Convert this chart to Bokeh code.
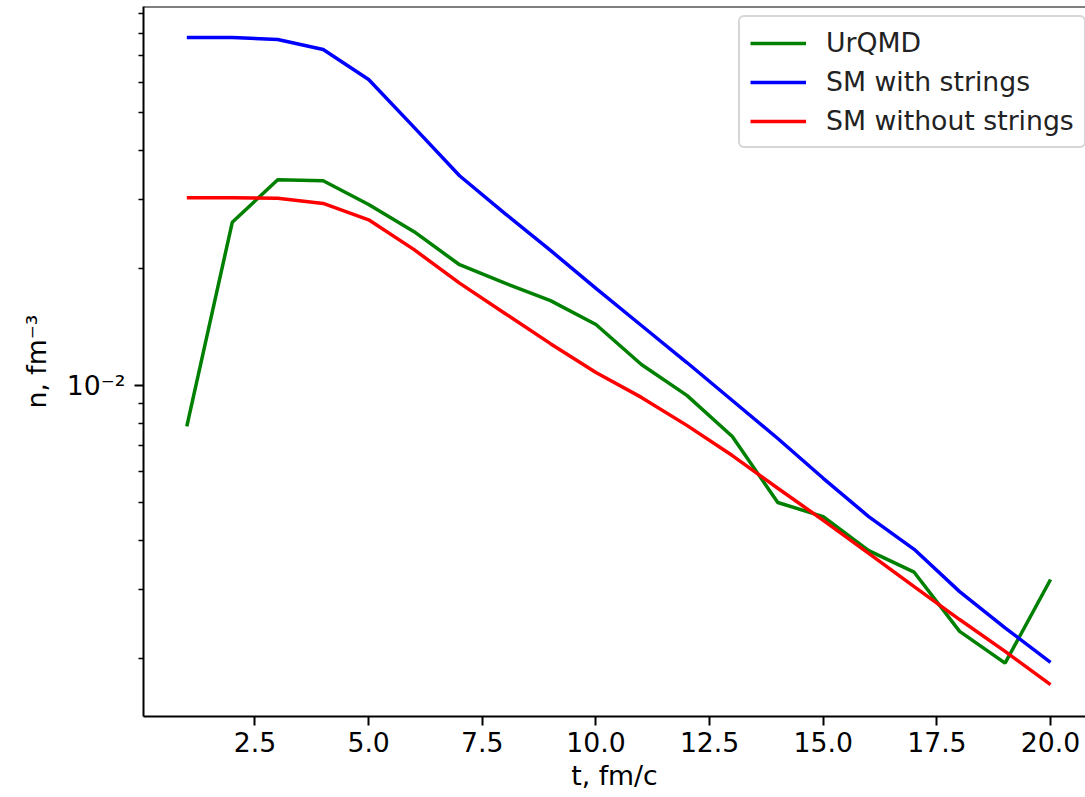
from bokeh.plotting import figure
from bokeh.models import (Range1d, FixedTicker, NumeralTickFormatter, Legend,
                          LegendItem, Span)
from bokeh.embed import file_html
from bokeh.resources import INLINE

# ---- data ----
t = list(range(1, 21))
urqmd = [0.00785, 0.0262, 0.0337, 0.0335, 0.0291, 0.0248, 0.0204, 0.0183,
         0.0165, 0.01433, 0.01132, 0.00943, 0.00740, 0.00501, 0.00461,
         0.00377, 0.00332, 0.00234, 0.00194, 0.00318]
sm_strings = [0.0780, 0.0780, 0.0771, 0.0727, 0.0609, 0.0459, 0.0345, 0.0276,
              0.0222, 0.01774, 0.01425, 0.01145, 0.00915, 0.00731, 0.00578,
              0.00461, 0.00380, 0.00296, 0.00239, 0.00195]
sm_no_strings = [0.0303, 0.0303, 0.0302, 0.0293, 0.0266, 0.0223, 0.0183,
                 0.0153, 0.0128, 0.01080, 0.00932, 0.00790, 0.00661, 0.00545,
                 0.00451, 0.00371, 0.00305, 0.00251, 0.00208, 0.00171]
series_names = ["UrQMD", "SM with strings", "SM without strings"]
series_colors = ["#008000", "#0000ff", "#ff0000"]

x_ticks = [2.5, 5.0, 7.5, 10.0, 12.5, 15.0, 17.5, 20.0]
y_major = [0.01]
y_minor = [0.002, 0.003, 0.004, 0.005, 0.006, 0.007, 0.008, 0.009,
           0.02, 0.03, 0.04, 0.05, 0.06, 0.07, 0.08, 0.09]
y_major_labels = {0.01: "10⁻²"}
x_title = "t, fm/c"
y_title = "n, fm⁻³"

X_START, X_END = 0.0475, 20.769
Y_START, Y_END = 0.001416, 0.09372

FONT = "DejaVu Sans"
FS = "26.7px"

p = figure(width=1085, height=797, y_axis_type="log",
           x_range=Range1d(X_START, X_END), y_range=Range1d(Y_START, Y_END),
           output_backend="svg", toolbar_location=None, title_location=None,
           min_border_left=143, min_border_right=0, min_border_top=6,
           min_border_bottom=81)
p.outline_line_color = None
p.xgrid.visible = False
p.ygrid.visible = False
p.background_fill_color = "white"
p.border_fill_color = "white"

renderers = []
for ys, c in zip([urqmd, sm_strings, sm_no_strings], series_colors):
    r = p.line(t, ys, line_color=c, line_width=3.5)
    renderers.append(r)

# top spine
p.add_layout(Span(location=Y_END, dimension="width", line_color="black",
                  line_width=2))

for ax in (p.xaxis[0], p.yaxis[0]):
    ax.axis_line_color = "black"
    ax.axis_line_width = 2
    ax.major_tick_line_width = 2
    ax.minor_tick_line_width = 1.6
    ax.major_tick_out = 9
    ax.major_tick_in = 0
    ax.minor_tick_out = 5
    ax.minor_tick_in = 0
    ax.major_label_text_font = FONT
    ax.major_label_text_font_size = FS
    ax.major_label_text_color = "black"
    ax.axis_label_text_font = FONT
    ax.axis_label_text_font_size = FS
    ax.axis_label_text_font_style = "normal"
    ax.axis_label_text_color = "black"

p.xaxis.ticker = FixedTicker(ticks=x_ticks, minor_ticks=[])
p.xaxis.formatter = NumeralTickFormatter(format="0.0")
p.xaxis.axis_label = x_title
p.xaxis.major_label_standoff = 6
p.xaxis.axis_label_standoff = 5

p.yaxis.ticker = FixedTicker(ticks=y_major, minor_ticks=y_minor)
p.yaxis.major_label_overrides = y_major_labels
p.yaxis.axis_label = y_title
p.yaxis.major_label_standoff = 9
p.yaxis.axis_label_standoff = 12

legend = Legend(items=[LegendItem(label=n, renderers=[r])
                       for n, r in zip(series_names, renderers)],
                location=(595, 568), margin=0, padding=10, spacing=8,
                glyph_width=56, glyph_height=20, label_standoff=20,
                label_height=31,
                label_text_font=FONT, label_text_font_size=FS,
                label_text_color="#222222",
                border_line_color="#cccccc", border_line_alpha=0.8,
                border_line_width=2, border_radius=6,
                background_fill_color="white", background_fill_alpha=0.8)
p.add_layout(legend)

open("out.html", "w").write(file_html(p, INLINE))
